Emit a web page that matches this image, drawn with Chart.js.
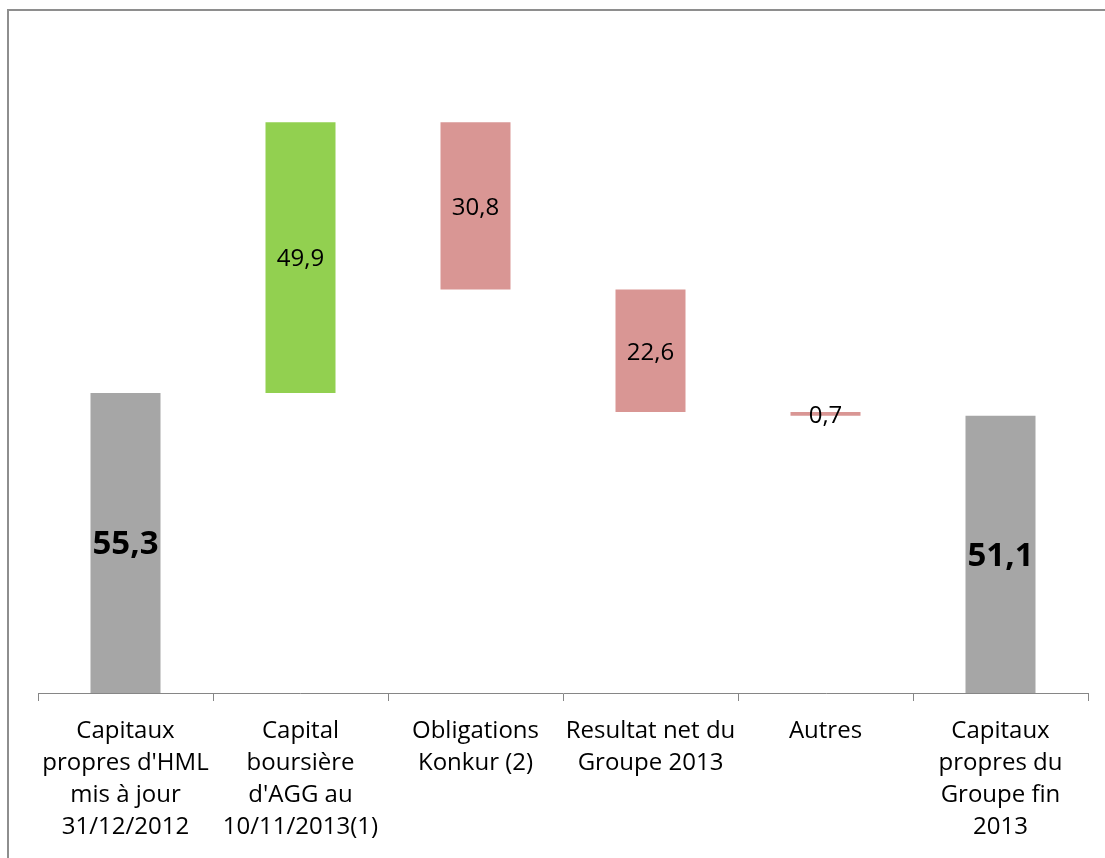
<!DOCTYPE html>
<html>
<head>
<meta charset="utf-8">
<script src="https://cdn.jsdelivr.net/npm/chart.js@4"></script>
<style>
  html, body { margin: 0; padding: 0; background: #fff; overflow: hidden; }
  #wrap { position: relative; width: 1105px; height: 858px; }
  #frame { position: absolute; left: 7px; top: 9px; width: 1200px; height: 1000px; border: 2px solid #8e8e8e; }
  canvas { position: absolute; left: 0; top: 0; }
</style>
</head>
<body>
<div id="wrap">
  <div id="frame"></div>
  <canvas id="chart" width="1105" height="858"></canvas>
</div>
<script>
// Données du graphique (pont des capitaux propres)
const categories = [
    ["Capitaux", "propres d'HML", "mis à jour", "31/12/2012"],
    ["Capital", "boursière", "d'AGG au", "10/11/2013(1)"],
    ["Obligations", "Konkur (2)"],
    ["Resultat net du", "Groupe 2013"],
    ["Autres"],
    ["Capitaux", "propres du", "Groupe fin", "2013"]
];
const values = [55.3, 49.9, -30.8, -22.6, -0.7, 51.1];
const isTotal = [true, false, false, false, false, true];
const yMax = 120;

// Barres flottantes: cumul des variations
let running = 0;
const ranges = values.map((v, i) => {
    if (isTotal[i]) { running = v; return [0, v]; }
    const start = running;
    running = running + v;
    return [start, running];
});
const colors = values.map((v, i) => isTotal[i] ? '#a6a6a6' : (v >= 0 ? '#92d050' : '#d99694'));

function fmt(v) {
    return Math.abs(v).toFixed(1).replace('.', ',');
}

// Étiquettes au centre des barres
const labelPlugin = {
    id: 'barLabels',
    afterDatasetsDraw(chart) {
        const ctx = chart.ctx;
        const meta = chart.getDatasetMeta(0);
        ctx.save();
        ctx.textAlign = 'center';
        ctx.textBaseline = 'middle';
        ctx.fillStyle = '#000';
        meta.data.forEach((bar, i) => {
            const y = (bar.y + bar.base) / 2;
            ctx.font = isTotal[i] ? "bold 33px 'Open Sans', sans-serif" : "24px 'Open Sans', sans-serif";
            ctx.fillText(fmt(values[i]), bar.x, y + 2);
        });
        ctx.restore();
    }
};

new Chart(document.getElementById('chart'), {
    type: 'bar',
    data: {
        labels: categories,
        datasets: [{
            data: ranges,
            backgroundColor: colors,
            borderWidth: 0,
            barPercentage: 0.4,
            categoryPercentage: 1.0
        }]
    },
    options: {
        responsive: false,
        animation: false,
        layout: { padding: { left: 38, right: 17, top: 42, bottom: 0 } },
        plugins: {
            legend: { display: false },
            tooltip: { enabled: false }
        },
        scales: {
            y: {
                display: false,
                min: 0,
                max: yMax
            },
            x: {
                afterFit(scale) { scale.height = 165; },
                grid: {
                    offset: true,
                    drawOnChartArea: false,
                    tickLength: 8,
                    color: '#868686'
                },
                border: { color: '#868686', width: 1 },
                ticks: {
                    color: '#000',
                    padding: 14,
                    maxRotation: 0,
                    autoSkip: false,
                    font: { size: 24, family: "'Open Sans', sans-serif", lineHeight: 1.34 }
                }
            }
        }
    },
    plugins: [labelPlugin]
});
</script>
</body>
</html>
